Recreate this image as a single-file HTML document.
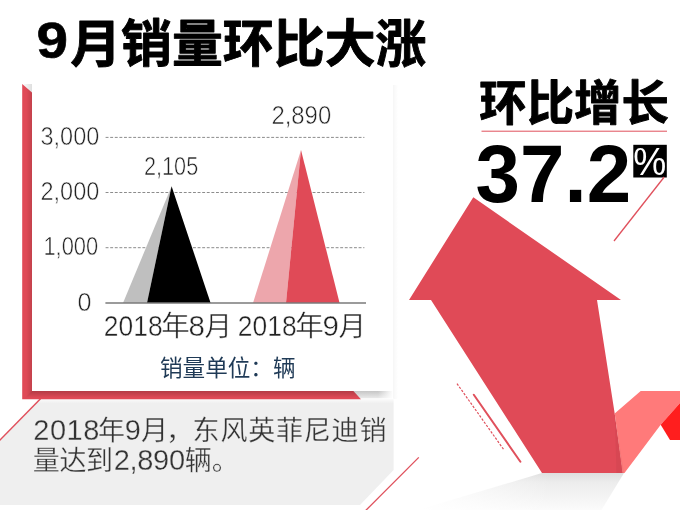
<!DOCTYPE html>
<html lang="zh-CN">
<head>
<meta charset="utf-8">
<title>9月销量环比大涨</title>
<style>
html,body{margin:0;padding:0;background:#fff;}
body{width:680px;height:510px;overflow:hidden;position:relative;font-family:"Liberation Sans","Noto Sans CJK SC",sans-serif;}
svg{position:absolute;left:0;top:0;display:block;}
.cjk{font-family:"Liberation Sans","Noto Sans CJK SC",sans-serif;}
.cjkb{font-family:"Noto Sans CJK SC","Liberation Sans",sans-serif;font-weight:700;}
.num{font-family:"Liberation Sans",sans-serif;}
</style>
</head>
<body>
<svg width="680" height="510" viewBox="0 0 680 510">
  <defs>
    <linearGradient id="shadowR" x1="0" x2="1" y1="0" y2="0">
      <stop offset="0" stop-color="#000" stop-opacity="0.035"/>
      <stop offset="1" stop-color="#000" stop-opacity="0"/>
    </linearGradient>
    <linearGradient id="arrowShadowV" x1="0" x2="0" y1="0" y2="1">
      <stop offset="0" stop-color="#dedede"/>
      <stop offset="0.25" stop-color="#ececec"/>
      <stop offset="1" stop-color="#fbfbfb"/>
    </linearGradient>
    <linearGradient id="fadeL" x1="0" x2="1" y1="0" y2="0">
      <stop offset="0" stop-color="#fff" stop-opacity="1"/>
      <stop offset="1" stop-color="#fff" stop-opacity="0"/>
    </linearGradient>
    <linearGradient id="shV" x1="0" x2="0" y1="0" y2="1">
      <stop offset="0" stop-color="#c6c6c6"/>
      <stop offset="1" stop-color="#ebebeb"/>
    </linearGradient>
    <linearGradient id="fadeR" x1="0" x2="1" y1="0" y2="0">
      <stop offset="0" stop-color="#fff" stop-opacity="0"/>
      <stop offset="1" stop-color="#fff" stop-opacity="1"/>
    </linearGradient>
    <linearGradient id="fadeTop" x1="0" x2="0" y1="0" y2="1">
      <stop offset="0" stop-color="#fff" stop-opacity="0.85"/>
      <stop offset="1" stop-color="#fff" stop-opacity="0"/>
    </linearGradient>
    <linearGradient id="inL" x1="0" x2="1" y1="0" y2="0">
      <stop offset="0" stop-color="#000" stop-opacity="0"/>
      <stop offset="1" stop-color="#000" stop-opacity="0.13"/>
    </linearGradient>
    <linearGradient id="inB" x1="0" x2="0" y1="0" y2="1">
      <stop offset="0" stop-color="#000" stop-opacity="0.2"/>
      <stop offset="1" stop-color="#000" stop-opacity="0"/>
    </linearGradient>
    <linearGradient id="cornerSh" x1="0" x2="1" y1="0" y2="0">
      <stop offset="0" stop-color="#fff"/>
      <stop offset="1" stop-color="#dedede"/>
    </linearGradient>
  </defs>

  <!-- white panel faint shadow -->
  <rect x="393" y="85" width="5" height="314" fill="url(#shadowR)"/>
  <rect x="352" y="391" width="40.5" height="7.5" fill="url(#shV)"/>
  <rect x="378" y="390" width="15" height="9" fill="url(#fadeR)"/>
  <polygon points="22,84 32,84 32,92.5" fill="url(#cornerSh)"/>

  <!-- grey caption box -->
  <polygon points="40,399 393.6,399 393.6,470 360,505 0,505 0,440" fill="#efefef"/>
  <rect x="0" y="398.5" width="394" height="5" fill="url(#fadeTop)"/>
  <line x1="40.5" y1="398.8" x2="-1" y2="441" stroke="#e0505c" stroke-width="1.5"/>

  <!-- red L frame -->
  <polygon points="22.2,84 32,92.5 32,391 353.3,391 361,399.2 22.2,399.2" fill="#e04a57"/>
  <polygon points="26,87.3 32,92.5 32,391 26,397" fill="url(#inL)"/>
  <polygon points="32,391 353.3,391 360,398 25,398" fill="url(#inB)"/>

  <!-- chart grid -->
  <g stroke="#8c8c8c" stroke-width="1" stroke-dasharray="2.9,1.7" fill="none">
    <line x1="105.6" y1="137.4" x2="364.4" y2="137.4"/>
    <line x1="105.6" y1="192.5" x2="364.4" y2="192.5"/>
    <line x1="105.6" y1="247.7" x2="364.4" y2="247.7"/>
  </g>
  <!-- bars -->
  <polygon points="123,303 171.6,186.2 147,303" fill="#bfbfbf"/>
  <polygon points="147,303 171.6,186.2 210.6,303" fill="#000"/>
  <polygon points="253,303 301,150 286,303" fill="#eda6ac"/>
  <polygon points="286,303 301,150 339.6,303" fill="#e04a57"/>
  <line x1="105.4" y1="303" x2="366" y2="303" stroke="#7a7a7a" stroke-width="1.5"/>

  <!-- y labels -->
  <g class="num" font-size="25" fill="#222" stroke="#fff" stroke-width="0.55">
    <text x="40.5" y="144.7" textLength="58.8" lengthAdjust="spacingAndGlyphs">3,000</text>
    <text x="40.5" y="199.8" textLength="58.8" lengthAdjust="spacingAndGlyphs">2,000</text>
    <text x="43.4" y="254.8" textLength="54.8" lengthAdjust="spacingAndGlyphs">1,000</text>
    <text x="77.5" y="311.4" textLength="14" lengthAdjust="spacingAndGlyphs">0</text>
    <text x="144" y="174.6" textLength="54.2" lengthAdjust="spacingAndGlyphs">2,105</text>
    <text x="271.4" y="124.3" textLength="59.8" lengthAdjust="spacingAndGlyphs">2,890</text>
  </g>
  <g class="cjk" fill="#222" stroke="#fff" stroke-width="0.45">
    <text><tspan x="103.8" y="335.9" font-size="29.5" textLength="58.8" lengthAdjust="spacingAndGlyphs">2018</tspan><tspan x="161.2" y="335.6" font-size="28.5">年</tspan><tspan x="188.4" y="335.9" font-size="29.5">8</tspan><tspan x="204.6" y="335.6" font-size="27.5">月</tspan></text>
    <text><tspan x="237.8" y="335.9" font-size="29.5" textLength="58.8" lengthAdjust="spacingAndGlyphs">2018</tspan><tspan x="295.2" y="335.6" font-size="28.5">年</tspan><tspan x="322.4" y="335.9" font-size="29.5">9</tspan><tspan x="338.6" y="335.6" font-size="27.5">月</tspan></text>
  </g>
  <text class="cjk" x="160" y="375.5" font-size="22.6" fill="#1f3a56">销量单位：辆</text>

  <!-- title -->
  <text fill="#000" stroke="#000"><tspan x="36.5" y="58" font-family="'Liberation Sans',sans-serif" font-weight="700" font-size="49.5" stroke-width="0.6" textLength="31.5" lengthAdjust="spacingAndGlyphs">9</tspan><tspan class="cjkb" x="70.2" y="62.3" font-size="50.9" stroke-width="0.9" stroke-linejoin="round">月销量环比大涨</tspan></text>

  <!-- right heading -->
  <text class="cjkb" x="479.3" y="119.5" font-size="47.4" fill="#000" stroke="#000" stroke-width="0.9" stroke-linejoin="round">环比增长</text>
  <line x1="481.5" y1="131.2" x2="667" y2="131.2" stroke="#e0505c" stroke-width="1"/>
  <text x="475.6" y="202" font-family="'Liberation Sans',sans-serif" font-weight="700" font-size="81.8" fill="#000" textLength="155.5" lengthAdjust="spacingAndGlyphs">37.2</text>
  <rect x="633.3" y="144.8" width="33.5" height="32.7" fill="#000"/>
  <text x="633.2" y="175" class="num" font-size="39.5" fill="#fff" textLength="33" lengthAdjust="spacingAndGlyphs">%</text>
  <line x1="664.2" y1="177" x2="614" y2="241" stroke="#e0505c" stroke-width="1.3"/>

  <!-- arrow shadow -->
  <polygon points="542,473 624,473 601.5,510 418,510" fill="url(#arrowShadowV)"/>
  <rect x="415" y="472" width="135" height="38" fill="url(#fadeL)"/>

  <!-- arrow -->
  <polygon points="473.3,197.3 621,300 597,300 614.7,413.6 623,473 542,473 431,300 409,300" fill="#e04a57"/>
  <polygon points="614.7,413.6 640.7,391 680,391 680,403 660.7,424.7 624.5,473 622.5,473" fill="#ff7a7a"/>
  <polygon points="680,403 660.7,424.7 670,440 680,440" fill="#ff1e1e"/>

  <polygon points="614.7,413.6 616.4,473 624,473" fill="#000" fill-opacity="0.04"/>

  <!-- decorative lines -->
  <line x1="457" y1="383.6" x2="504.3" y2="450.4" stroke="#e0505c" stroke-width="1.2" stroke-dasharray="2.4,1.5"/>
  <line x1="473.8" y1="394.8" x2="520.4" y2="461.8" stroke="#e0505c" stroke-width="2" stroke-linecap="round"/>
  <line x1="418.8" y1="457.4" x2="364.5" y2="511.7" stroke="#e0505c" stroke-width="1.3"/>

  <!-- caption -->
  <g class="cjk" font-size="27" fill="#333" stroke="#efefef" stroke-width="0.3">
    <text x="33.3" y="439.6"><tspan font-size="29" letter-spacing="0.5">2018</tspan><tspan x="98">年</tspan><tspan x="124.8" font-size="29">9</tspan><tspan x="141">月</tspan><tspan x="166">，</tspan><tspan x="192.6" letter-spacing="0.8">东风英菲尼迪销</tspan></text>
    <text x="32.8" y="470.4"><tspan letter-spacing="-0.4">量达到</tspan><tspan x="113.7" font-size="29" letter-spacing="-0.3">2,890</tspan><tspan x="184.7">辆。</tspan></text>
  </g>
</svg>
</body>
</html>
